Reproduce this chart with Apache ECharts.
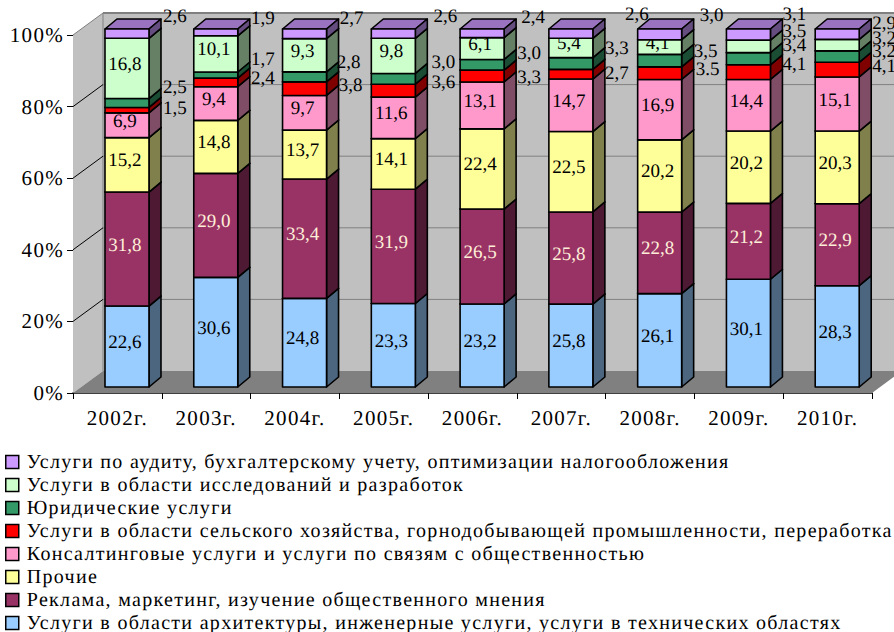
<!DOCTYPE html>
<html>
<head>
<meta charset="utf-8">
<style>
  html, body { margin: 0; padding: 0; background: #fff; }
  #chart { width: 894px; height: 632px; }
  #chart svg text { letter-spacing: 1.3px; text-rendering: geometricPrecision; }
  #chart svg text[style*="19px"] { letter-spacing: 0; }
</style>
<script src="https://cdn.jsdelivr.net/npm/echarts@6/dist/echarts.min.js"></script>
</head>
<body>
<div id="chart"></div>
<script>
const years = ["2002г.", "2003г.", "2004г.", "2005г.", "2006г.", "2007г.", "2008г.", "2009г.", "2010г."];
const yTicks = [0, 20, 40, 60, 80, 100];

const architecture = [22.6, 30.6, 24.8, 23.3, 23.2, 23.2, 26.1, 30.1, 28.3];
const advertising = [31.8, 29.0, 33.4, 31.9, 26.5, 25.8, 22.8, 21.2, 22.9];
const other = [15.2, 14.8, 13.7, 14.1, 22.4, 22.5, 20.2, 20.2, 20.3];
const consulting = [6.9, 9.4, 9.7, 11.6, 13.1, 14.7, 16.9, 14.4, 15.1];
const agriculture = [1.5, 2.4, 3.8, 3.6, 3.3, 2.7, 3.5, 4.1, 4.1];
const legal = [2.5, 1.7, 2.8, 3.0, 3.0, 3.3, 3.5, 3.4, 3.2];
const research = [16.8, 10.1, 9.3, 9.8, 6.1, 5.4, 4.1, 3.5, 3.2];
const audit = [2.6, 1.9, 2.7, 2.6, 2.4, 2.6, 3.0, 3.1, 2.9];

// bottom to top
const layers = [
  { name: "Услуги в области архитектуры, инженерные услуги, услуги в технических областях", values: architecture, color: "#99CCFF", side: "#4D6680" },
  { name: "Реклама, маркетинг, изучение общественного мнения", values: advertising, color: "#993366", side: "#4D1933", text: "#FFEFD8" },
  { name: "Прочие", values: other, color: "#FFFF99", side: "#80804D" },
  { name: "Консалтинговые услуги и услуги по связям с общественностью", values: consulting, color: "#FF99CC", side: "#804D66" },
  { name: "Услуги в области сельского хозяйства, горнодобывающей промышленности, переработка", values: agriculture, color: "#FF0000", side: "#800000" },
  { name: "Юридические услуги", values: legal, color: "#339966", side: "#1A4D33" },
  { name: "Услуги в области исследований и разработок", values: research, color: "#CCFFCC", side: "#668066" },
  { name: "Услуги по аудиту, бухгалтерскому учету, оптимизации налогообложения", values: audit, color: "#CC99FF", side: "#664D80", top: "#9973BF" },
];

// подписи, которые на картинке не совпадают с высотой столбца
const labelOverride = { "0-5": "25,8", "4-6": "3.5" };

// подписи, вынесенные вправо от столбца: сдвиг [dx, dy] от центра сегмента
const outsideLabels = {
  4: [[48, -2], [47, -4], [46, -3], [50, -8], [47, 1], [46, -1], [48, -4], [46, -8], [47, -3]],
  5: [[48, -16], [47, -16], [44, -14], [50, -16], [47, -11], [46, -15], [46, -9], [46, -13], [47, -5]],
  6: [null, null, null, null, null, null, null, [46, -15], [47, -7]],
  7: [[48, -17], [47, -14], [47, -15], [52, -17], [51, -16], [66, -19], [52, -19], [46, -20], [47, -11]],
};

const serif = "Liberation Serif, serif";
const WALL_DX = 30, WALL_DY = 22;
const BAR_W = 44, BAR_SHIFT_X = 9.6, BAR_SHIFT_Y = 6;
const SIDE_DX = 12, SIDE_DY = 10;
const EDGE = { stroke: "#000", lineWidth: 1.6, lineJoin: "round" };

function fmt(v) {
  return v.toFixed(1).replace(".", ",");
}

function cumulative(layerIdx, yearIdx) {
  let total = 0, below = 0;
  layers.forEach((l, i) => {
    total += l.values[yearIdx];
    if (i < layerIdx) below += l.values[yearIdx];
  });
  const scale = 100 / total;
  return [below * scale, (below + layers[layerIdx].values[yearIdx]) * scale];
}

function poly(points, fill, extra) {
  return { type: "polygon", shape: { points }, style: Object.assign({ fill }, extra || {}) };
}

function renderWalls(params, api) {
  const p0 = api.coord([0, 0]);
  const size = api.size([1, 0]);
  const xL = p0[0] - size[0] / 2;
  const xR = xL + size[0] * years.length;
  const y0 = p0[1];
  const y100 = api.coord([0, 100])[1];
  const children = [
    poly([[xL, y0], [xL + WALL_DX, y0 - WALL_DY], [xR + WALL_DX, y0 - WALL_DY], [xR + WALL_DX, y100 - WALL_DY], [xL + WALL_DX, y100 - WALL_DY], [xL, y100]], "#C0C0C0"),
    poly([[xL, y0], [xL + WALL_DX, y0 - WALL_DY], [xR + WALL_DX, y0 - WALL_DY], [xR, y0]], "#808080"),
    { type: "line", shape: { x1: xL + WALL_DX, y1: y100 - WALL_DY, x2: xL + WALL_DX, y2: y0 - WALL_DY }, style: { stroke: "#808080", lineWidth: 1 } },
  ];
  yTicks.forEach((t) => {
    const y = api.coord([0, t])[1];
    if (t > 0) {
      children.push({ type: "line", shape: { x1: xL + WALL_DX, y1: y - WALL_DY, x2: xR + WALL_DX, y2: y - WALL_DY }, style: { stroke: "#808080", lineWidth: t === 100 ? 2 : 1 } });
      children.push({ type: "line", shape: { x1: xL, y1: y, x2: xL + WALL_DX, y2: y - WALL_DY }, style: { stroke: t === 100 ? "#808080" : "#000", lineWidth: 1 } });
    }
  });
  return { type: "group", children };
}

function makeRender(layerIdx) {
  const layer = layers[layerIdx];
  return function (params, api) {
    const i = api.value(0);
    const [from, to] = cumulative(layerIdx, i);
    const cx = api.coord([i, 0])[0] + BAR_SHIFT_X;
    const yB = api.coord([i, from])[1] - BAR_SHIFT_Y;
    const yT = api.coord([i, to])[1] - BAR_SHIFT_Y;
    const xL = cx - BAR_W / 2, xR = cx + BAR_W / 2;
    const children = [
      poly([[xL, yT], [xL + SIDE_DX, yT - SIDE_DY], [xR + SIDE_DX, yT - SIDE_DY], [xR, yT]], layer.top || layer.color, EDGE),
      poly([[xR, yB], [xR + SIDE_DX, yB - SIDE_DY], [xR + SIDE_DX, yT - SIDE_DY], [xR, yT]], layer.side, EDGE),
      { type: "rect", shape: { x: xL, y: yT, width: BAR_W, height: yB - yT }, style: Object.assign({ fill: layer.color }, EDGE) },
    ];
    const outside = outsideLabels[layerIdx] && outsideLabels[layerIdx][i];
    const shift = outside || [-2, -4];
    children.push({
      type: "text",
      z2: 100,
      style: {
        x: cx + shift[0],
        y: (yT + yB) / 2 + shift[1],
        text: labelOverride[layerIdx + "-" + i] || fmt(layer.values[i]),
        fill: layer.text || "#000",
        font: "19px " + serif,
        align: "center",
        verticalAlign: "middle",
      },
    });
    return { type: "group", children };
  };
}

const chart = echarts.init(document.getElementById("chart"), null, { renderer: "svg" });

const option = {
  animation: false,
  textStyle: { fontFamily: serif },
  grid: { left: 73, right: 22, top: 35, bottom: 239, containLabel: false },
  legend: {
    orient: "vertical",
    left: 5,
    top: 452,
    height: 200,
    padding: 0,
    itemWidth: 13,
    itemHeight: 13,
    itemGap: 3,
    icon: "rect",
    selectedMode: false,
    data: layers.map((l) => l.name).reverse(),
    itemStyle: { borderColor: "#000", borderWidth: 1.5 },
    textStyle: { fontFamily: serif, fontSize: 20, color: "#000", padding: [0, 0, 0, 3], lineHeight: 20 },
  },
  xAxis: {
    type: "category",
    data: years,
    axisLine: { lineStyle: { color: "#000", width: 1.5 } },
    axisTick: { show: true, length: 6, lineStyle: { color: "#000" } },
    axisLabel: { color: "#000", fontFamily: serif, fontSize: 21, margin: 14 },
  },
  yAxis: {
    type: "value",
    min: 0,
    max: 100,
    interval: 20,
    axisLine: { show: true, lineStyle: { color: "#404040", width: 1 } },
    axisTick: { show: true, length: 6, lineStyle: { color: "#000" } },
    axisLabel: { color: "#000", fontFamily: serif, fontSize: 21, margin: 9, formatter: "{value}%" },
    splitLine: { show: false },
  },
  series: [
    { type: "custom", name: "walls", silent: true, z: 1, data: [[0]], renderItem: renderWalls, encode: { x: 0 } },
  ].concat(layers.map((l, idx) => ({
    type: "custom",
    name: l.name,
    z: 2 + idx,
    itemStyle: { color: l.color },
    data: years.map((_, i) => [i]),
    encode: { x: 0 },
    renderItem: makeRender(idx),
  }))),
};

chart.setOption(option);
</script>
</body>
</html>
